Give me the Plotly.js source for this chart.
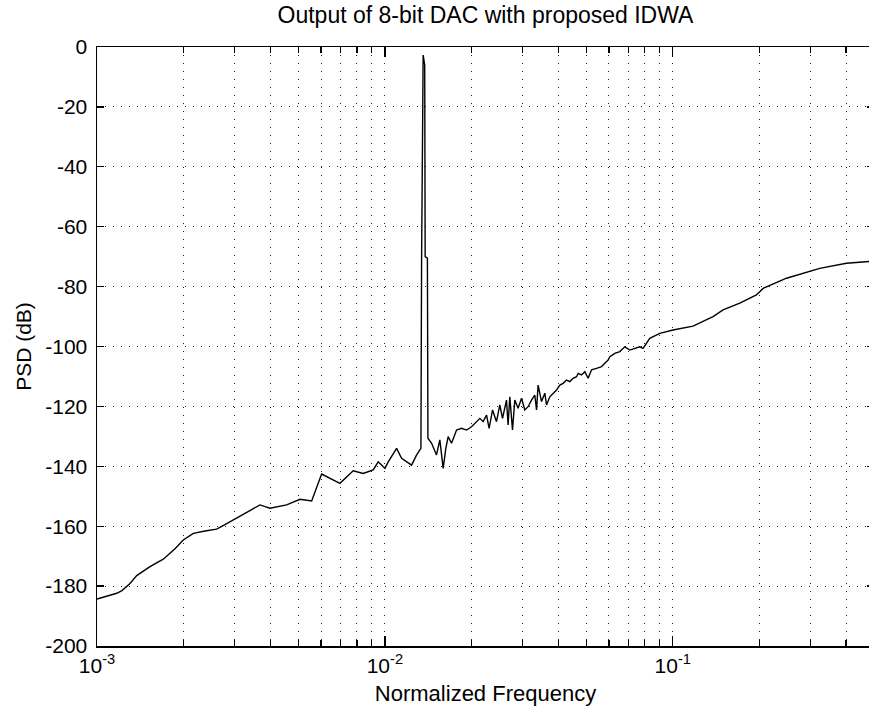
<!DOCTYPE html>
<html>
<head>
<meta charset="utf-8">
<script src="https://cdn.plot.ly/plotly-3.0.1.min.js"></script>
<style>
html, body { margin: 0; padding: 0; background: #ffffff; overflow: hidden; }
#chart { width: 880px; height: 720px; }
</style>
</head>
<body>
<div id="chart"></div>
<script>
// Normalized frequency (x) and PSD in dB (y)
const freq = [
  0.001000, 0.001066, 0.001171, 0.001221, 0.001302, 0.001374, 0.001528, 0.001699,
  0.001866, 0.001994, 0.002160, 0.002371, 0.002604, 0.002783, 0.002974, 0.003266,
  0.003681, 0.003988, 0.004557, 0.005071, 0.005567, 0.006029, 0.006979, 0.007761,
  0.008408, 0.009108, 0.009478, 0.009739, 0.010000, 0.01027, 0.01098, 0.01143,
  0.01238, 0.01289, 0.01334, 0.01341, 0.01358, 0.01375, 0.01380, 0.01405,
  0.01411, 0.01453, 0.01511, 0.01552, 0.01594, 0.01628, 0.01659, 0.01704,
  0.01774, 0.01846, 0.01922, 0.02000, 0.02082, 0.02138, 0.02194, 0.02255,
  0.02302, 0.02366, 0.02442, 0.02507, 0.02562, 0.02645, 0.02679, 0.02716,
  0.02775, 0.02827, 0.02902, 0.02983, 0.03062, 0.03144, 0.03231, 0.03317,
  0.03363, 0.03406, 0.03500, 0.03594, 0.03643, 0.03740, 0.03947, 0.04052,
  0.04160, 0.04275, 0.04389, 0.04507, 0.04631, 0.04691, 0.04820, 0.04949,
  0.05082, 0.05222, 0.05434, 0.05656, 0.05807, 0.05962, 0.06044, 0.06289,
  0.06546, 0.06813, 0.07092, 0.07382, 0.07679, 0.07885, 0.08318, 0.09013,
  0.1002, 0.1176, 0.1380, 0.1495, 0.1709, 0.1953, 0.2059, 0.2483,
  0.2991, 0.3240, 0.4010, 0.4706, 0.5000
];
const psd = [
  -184.3, -183.5, -182.4, -181.5, -179.1, -176.5, -173.5, -171.0,
  -167.5, -164.6, -162.4, -161.6, -161.0, -159.5, -157.9, -155.5,
  -152.9, -154.0, -152.9, -151.0, -151.6, -142.6, -145.7, -141.5,
  -142.4, -141.2, -138.5, -139.6, -140.7, -138.5, -134.0, -137.3,
  -139.6, -136.2, -134.0, -72.0, -2.7, -6.0, -70.0, -70.5,
  -130.6, -132.3, -136.2, -131.2, -140.7, -134.0, -130.1, -132.3,
  -127.9, -127.3, -127.9, -126.8, -125.1, -124.0, -125.1, -122.9,
  -127.3, -121.2, -125.1, -119.5, -124.0, -117.9, -126.2, -116.8,
  -127.9, -117.9, -120.6, -117.3, -121.2, -120.1, -117.9, -116.2,
  -121.2, -112.9, -118.4, -115.6, -119.5, -116.8, -114.5, -112.9,
  -112.3, -111.2, -111.7, -110.6, -110.1, -109.0, -109.5, -108.4,
  -110.6, -107.8, -107.3, -106.7, -105.6, -104.5, -103.4, -102.3,
  -101.7, -100.1, -101.2, -100.6, -100.1, -100.6, -97.3, -95.6,
  -94.5, -93.2, -90.0, -87.8, -85.5, -82.8, -80.6, -77.2,
  -75.0, -73.9, -72.2, -71.7, -71.5
];
const xTickVals = [0.001, 0.01, 0.1];
const xTickText = ['10<sup>-3</sup>', '10<sup>-2</sup>', '10<sup>-1</sup>'];
const yTickVals = [0, -20, -40, -60, -80, -100, -120, -140, -160, -180, -200];
const yTickText = ['0', '-20', '-40', '-60', '-80', '-100', '-120', '-140', '-160', '-180', '-200'];
const xMinorVals = [];
[0.001, 0.01, 0.1].forEach(function (d) {
  for (let k = 2; k <= 9; k++) { if (d * k <= 0.5) xMinorVals.push(d * k); }
});

const font = 'Arial, "Liberation Sans", Helvetica, sans-serif';
const gridDash = '1px,7px';

const trace = {
  x: freq, y: psd, type: 'scatter', mode: 'lines',
  line: { color: '#000000', width: 1.4 },
  hoverinfo: 'skip'
};

const layout = {
  width: 880, height: 720,
  paper_bgcolor: '#ffffff', plot_bgcolor: '#ffffff',
  margin: { l: 97, r: 6, t: 47, b: 74 },
  showlegend: false,
  font: { family: font, size: 21, color: '#000000' },
  title: {
    text: 'Output of 8-bit DAC with proposed IDWA',
    font: { family: font, size: 23, color: '#000000' },
    x: 0.5, xref: 'paper', xanchor: 'center',
    y: 0.979, yref: 'container', yanchor: 'middle'
  },
  xaxis: {
    type: 'log',
    range: [Math.log10(0.001), Math.log10(0.5)],
    tickmode: 'array', tickvals: xTickVals, ticktext: xTickText,
    ticks: 'inside', ticklen: 10, tickwidth: 1.3, tickcolor: '#000000',
    showline: true, linecolor: '#000000', linewidth: 1.5, mirror: 'allticks',
    showgrid: true, gridcolor: '#222222', gridwidth: 1, griddash: gridDash,
    zeroline: false,
    tickfont: { family: font, size: 21, color: '#000000' },
    minor: {
      tickmode: 'array', tickvals: xMinorVals,
      ticks: 'inside', ticklen: 6, tickwidth: 1.2, tickcolor: '#000000',
      showgrid: true, gridcolor: '#222222', gridwidth: 1, griddash: gridDash
    },
    title: { text: 'Normalized Frequency', font: { family: font, size: 22, color: '#000000' }, standoff: 10 }
  },
  yaxis: {
    range: [-200, 0],
    tickmode: 'array', tickvals: yTickVals, ticktext: yTickText,
    ticks: 'inside', ticklen: 7, tickwidth: 1.3, tickcolor: '#000000',
    showline: true, linecolor: '#000000', linewidth: 1.5, mirror: 'allticks',
    showgrid: true, gridcolor: '#222222', gridwidth: 1, griddash: gridDash,
    zeroline: false,
    ticklabelstandoff: 4,
    tickfont: { family: font, size: 21, color: '#000000' },
    title: { text: 'PSD (dB)', font: { family: font, size: 21, color: '#000000' }, standoff: 8 }
  }
};

Plotly.newPlot('chart', [trace], layout, { displayModeBar: false, staticPlot: true });
</script>
</body>
</html>
